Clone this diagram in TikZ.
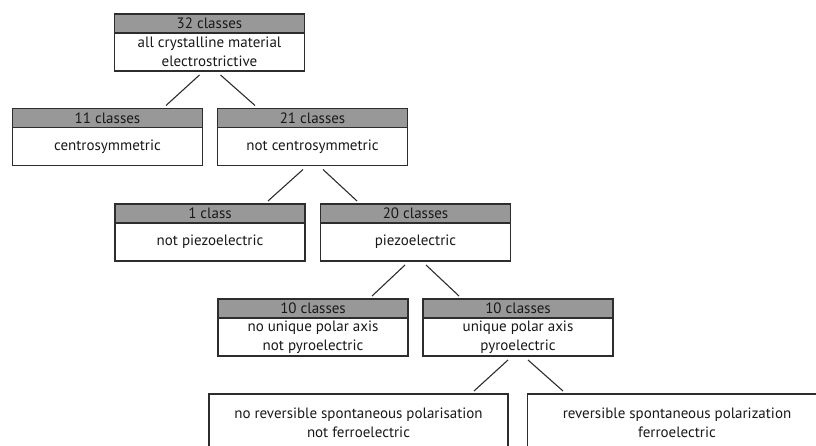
\documentclass[tikz,border=0pt]{standalone}
\usepackage{fontspec}
\setmainfont{PT Sans}
\usetikzlibrary{positioning}
\definecolor{hdrgray}{RGB}{152,152,152}
\definecolor{edgegray}{RGB}{45,45,45}

\begin{document}
\begin{tikzpicture}[x=1pt,y=-1pt,line width=1.1pt,
every node/.style={font=\fontsize{15}{19}\selectfont,text=black!90,outer sep=0pt,inner sep=0pt},
head/.style={draw=edgegray,fill=hdrgray,minimum width=190pt,minimum height=19pt},
body/.style={draw=edgegray,fill=white,minimum width=190pt,minimum height=38pt,align=center},
leaf/.style={draw=edgegray,minimum width=299pt,minimum height=57pt,align=center}]

\useasboundingbox (0,0) rectangle (816,446);
\clip (0,0) rectangle (816,446);

\node[head] (all) at (209.5,23.5) {32 classes};
\node[body,below=0pt of all] (allb) {all crystalline material\\electrostrictive};
\node[head] (cen) at (107.5,118) {11 classes};
\node[body,below=0pt of cen] (cenb) {centrosymmetric};
\node[head] (ncen) at (312.5,118) {21 classes};
\node[body,below=0pt of ncen] (ncenb) {not centrosymmetric};
\node[head] (npz) at (210,213.5) {1 class};
\node[body,below=0pt of npz] (npzb) {not piezoelectric};
\node[head] (pz) at (415.5,213.5) {20 classes};
\node[body,below=0pt of pz] (pzb) {piezoelectric};
\node[head] (npyr) at (313,308.5) {10 classes};
\node[body,below=0pt of npyr] (npyrb) {no unique polar axis\\not pyroelectric};
\node[head] (pyr) at (518,308.5) {10 classes};
\node[body,below=0pt of pyr] (pyrb) {unique polar axis\\pyroelectric};
\node[leaf] (nfe) at (358.5,422.5) {no reversible spontaneous polarisation\\not ferroelectric};
\node[leaf] (fe) at (677,422.5) {reversible spontaneous polarization\\ferroelectric};

\draw[edgegray] ([xshift=-10pt,yshift=-4pt]allb.south) -- ([xshift=58.5pt,yshift=3pt]cen.north);
\draw[edgegray] ([xshift=11pt,yshift=-4pt]allb.south) -- ([xshift=-57.5pt,yshift=3pt]ncen.north);
\draw[edgegray] ([xshift=-9.5pt,yshift=-4pt]ncenb.south) -- ([xshift=58pt,yshift=3pt]npz.north);
\draw[edgegray] ([xshift=10.5pt,yshift=-4pt]ncenb.south) -- ([xshift=-58.5pt,yshift=3pt]pz.north);
\draw[edgegray] ([xshift=-10.5pt,yshift=-4pt]pzb.south) -- ([xshift=59pt,yshift=3pt]npyr.north);
\draw[edgegray] ([xshift=10.5pt,yshift=-4pt]pzb.south) -- ([xshift=-59pt,yshift=3pt]pyr.north);
\draw[edgegray] ([xshift=-10pt,yshift=-4pt]pyrb.south) -- ([xshift=115.5pt,yshift=3pt]nfe.north);
\draw[edgegray] ([xshift=10pt,yshift=-4pt]pyrb.south) -- ([xshift=-114pt,yshift=3pt]fe.north);
\end{tikzpicture}
\end{document}
